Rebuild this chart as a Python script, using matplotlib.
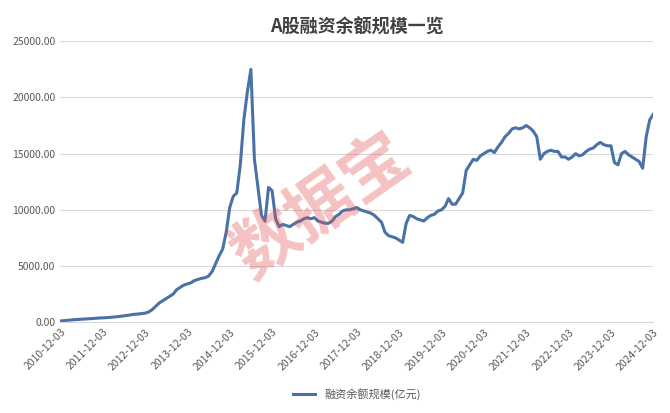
import matplotlib
matplotlib.use("Agg")
import matplotlib.pyplot as plt
plt.rcParams['font.family'] = ['Noto Sans CJK SC', 'DejaVu Sans']

years = list(range(2010, 2025))
tick_labels = [f"{y}-12-03" for y in years]
# monthly values, Dec 2010 .. Dec 2024 (亿元)
values = [
 100,
 130,160,190,220,240,260,280,300,320,340,370,380,
 400,420,450,480,520,560,600,650,700,720,760,800,
 900,1100,1400,1700,1900,2100,2300,2500,2900,3100,3300,3400,
 3500,3700,3800,3900,3950,4100,4500,5200,5900,6500,8000,10200,
 11200,11500,14000,18000,20500,22500,14500,12000,9500,9000,12000,11700,
 9200,8500,8700,8600,8500,8700,8900,9000,9200,9300,9200,9300,
 9000,8900,8800,8800,9000,9400,9600,9900,10000,10000,10100,10200,
 10000,9900,9800,9700,9500,9200,8900,8000,7700,7600,7500,7300,
 7100,8800,9500,9400,9200,9100,9000,9300,9500,9600,9900,10000,
 10300,11000,10500,10500,11000,11500,13500,14000,14500,14400,14800,15000,
 15200,15300,15100,15600,16000,16500,16800,17200,17300,17200,17300,17500,
 17300,17000,16500,14500,15000,15200,15300,15200,15200,14700,14700,14500,
 14700,15000,14800,14900,15200,15400,15500,15800,16000,15800,15700,15700,
 14200,14000,15000,15200,14900,14700,14500,14300,13700,16500,18000,18500,
]

fig, ax = plt.subplots(figsize=(6.7, 4.13), dpi=100)
fig.subplots_adjust(left=0.09, right=0.975, top=0.9, bottom=0.22)
x = list(range(len(values)))
ax.plot(x, values, color='#4a72a6', lw=2.2, label='融资余额规模(亿元)')
ax.set_xticks(list(range(0, len(values), 12)))
ax.set_xticklabels(tick_labels, rotation=45, ha='right', rotation_mode='anchor', fontsize=7.5, color='#595959')
ax.set_xlim(0, len(values) - 1)
ax.set_ylim(0, 25000)
ax.set_yticks(range(0, 25001, 5000))
ax.set_yticklabels([f"{v:.2f}" for v in range(0, 25001, 5000)], fontsize=7.5, color='#595959')
ax.grid(axis='y', color='#d9d9d9', lw=0.8)
ax.set_axisbelow(True)
for s in ['top', 'right', 'left']:
    ax.spines[s].set_visible(False)
ax.spines['bottom'].set_color('#d9d9d9')
ax.tick_params(length=0)
ax.set_title('A股融资余额规模一览', fontsize=13, fontweight='bold', color='#404040')
ax.legend(loc='upper center', bbox_to_anchor=(0.5, -0.2), frameon=False, fontsize=8, labelcolor='#595959')
fig.text(0.48, 0.5, '数据宝', fontsize=48, color='#e05050', alpha=0.35, rotation=35,
         ha='center', va='center', fontweight='bold')
fig.savefig('out.png')
